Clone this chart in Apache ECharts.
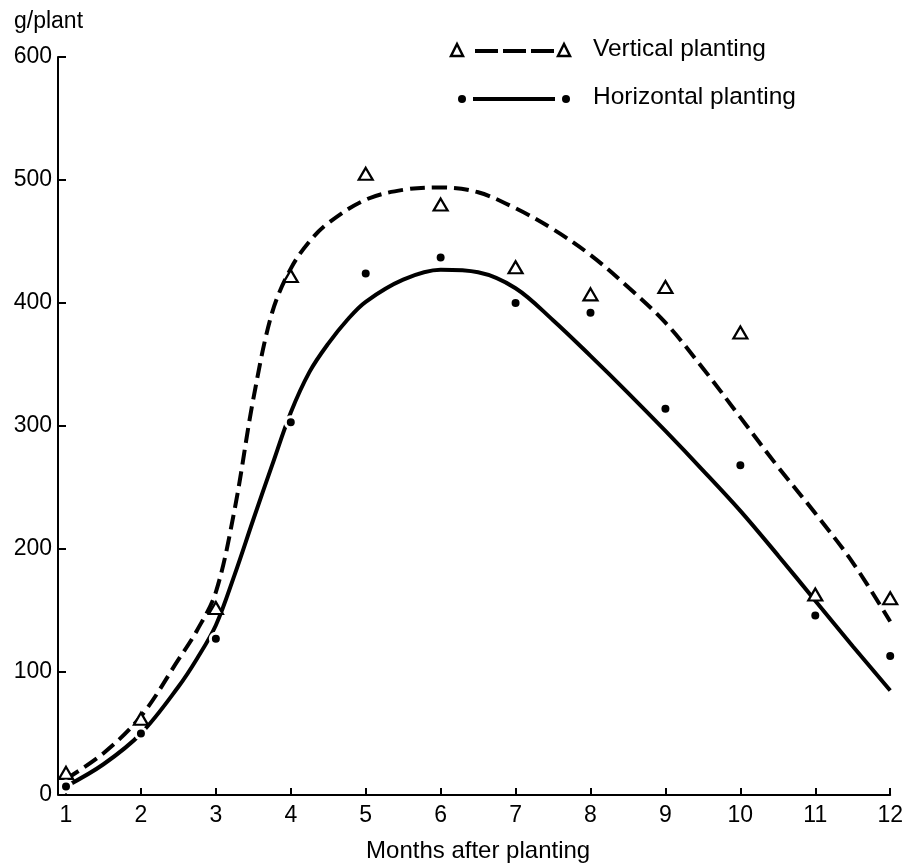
<!DOCTYPE html>
<html>
<head>
<meta charset="utf-8">
<script src="https://cdn.jsdelivr.net/npm/echarts@6/dist/echarts.min.js"></script>
<style>
  html, body { margin: 0; padding: 0; background: #fff; }
  #chart { width: 906px; height: 868px; }
</style>
</head>
<body>
<div id="chart"></div>
<script>
// months on the x axis
var months = [1, 2, 3, 4, 5, 6, 7, 8, 9, 10, 11, 12]
var yTicks = [0, 100, 200, 300, 400, 500, 600]

// measured points (g/plant)
var verticalPts = [18, 62, 152, 422, 505, 480, 429, 407, 413, 376, 163, 160]
var horizontalPts = [7, 50, 127, 303, 424, 437, 400, 392, 314, 268, 146, 113]

// fitted curves: [month, g/plant]
var verticalCurve = [
  [1, 13], [1.5, 34], [2, 64], [2.5, 110], [2.75, 134], [3, 165], [3.25, 232],
  [3.5, 322], [3.75, 392], [4, 428], [4.25, 450], [4.5, 465], [5, 484],
  [5.5, 492], [6, 494], [6.5, 490], [7, 477], [7.5, 460], [8, 439], [8.5, 413],
  [9, 384], [9.5, 347], [10, 307], [10.5, 267], [11, 229], [11.5, 189], [12, 141]
]
var horizontalCurve = [
  [1, 7], [1.5, 25], [2, 50], [2.5, 88], [2.75, 111], [3, 138], [3.25, 179],
  [3.5, 224], [3.75, 268], [4, 311], [4.25, 344], [4.5, 367], [4.75, 386],
  [5, 401], [5.5, 419], [6, 427], [6.5, 425], [7, 412], [7.5, 386], [8, 357],
  [8.5, 327], [9, 296], [9.5, 264], [10, 231], [10.5, 195], [11, 158],
  [11.5, 121], [12, 85]
]

var FONT = 'Liberation Sans, Arial, sans-serif'

var myChart = echarts.init(document.getElementById('chart'), null, {renderer: 'canvas'})

var option = {
  animation: false,
  backgroundColor: '#fff',
  title: {
    text: 'g/plant',
    left: 9,
    top: 5,
    textStyle: {fontFamily: FONT, fontSize: 23, fontWeight: 'normal', color: '#000'}
  },
  grid: {left: 66, right: 14, top: 57, bottom: 73},
  xAxis: {
    type: 'value',
    min: 1,
    max: 12,
    interval: 1,
    name: 'Months after planting',
    nameLocation: 'middle',
    nameGap: 44,
    nameTextStyle: {fontFamily: FONT, fontSize: 24, color: '#000'},
    axisLine: {lineStyle: {color: '#000', width: 2}},
    axisTick: {inside: true, length: 7, lineStyle: {color: '#000', width: 2}},
    axisLabel: {
      fontFamily: FONT, fontSize: 23, color: '#000', margin: 9,
      formatter: function (v) { return months.indexOf(v) >= 0 ? String(v) : '' }
    },
    splitLine: {show: false}
  },
  yAxis: {
    type: 'value',
    min: yTicks[0],
    max: yTicks[yTicks.length - 1],
    interval: 100,
    offset: 8,
    axisLine: {show: true, lineStyle: {color: '#000', width: 2}},
    axisTick: {show: true, inside: true, length: 8, lineStyle: {color: '#000', width: 2}},
    axisLabel: {fontFamily: FONT, fontSize: 23, color: '#000', margin: 6},
    splitLine: {show: false}
  },
  series: [
    {
      name: 'Vertical planting',
      type: 'line',
      data: verticalCurve,
      smooth: 0.35,
      showSymbol: false,
      lineStyle: {color: '#000', width: 4, type: [15, 7]},
      z: 2
    },
    {
      name: 'Horizontal planting',
      type: 'line',
      data: horizontalCurve,
      smooth: 0.35,
      showSymbol: false,
      lineStyle: {color: '#000', width: 4},
      z: 2
    },
    {
      name: 'Vertical points',
      type: 'scatter',
      data: months.map(function (m, i) { return [m, verticalPts[i]] }),
      symbol: 'triangle',
      symbolSize: [14, 12],
      itemStyle: {color: '#fff', borderColor: '#000', borderWidth: 2.2, opacity: 1},
      z: 3
    },
    {
      name: 'Horizontal points',
      type: 'scatter',
      data: months.map(function (m, i) { return [m, horizontalPts[i]] }),
      symbol: 'circle',
      symbolSize: 11,
      itemStyle: {color: '#000', borderColor: '#fff', borderWidth: 3, opacity: 1},
      z: 3
    }
  ],
  // legend drawn by hand: marker, line, marker, text
  graphic: [
    {type: 'polygon', shape: {points: [[457, 44], [451, 56], [463, 56]]},
      style: {fill: '#fff', stroke: '#000', lineWidth: 2.5}},
    {type: 'line', shape: {x1: 475, y1: 51, x2: 554, y2: 51},
      style: {stroke: '#000', lineWidth: 4, lineDash: [23, 5]}},
    {type: 'polygon', shape: {points: [[564, 44], [558, 56], [570, 56]]},
      style: {fill: '#fff', stroke: '#000', lineWidth: 2.5}},
    {type: 'text', left: 593, top: 37,
      style: {text: 'Vertical planting', fontFamily: FONT, fontSize: 24.5, fill: '#000'}},
    {type: 'circle', shape: {cx: 462, cy: 99, r: 4}, style: {fill: '#000'}},
    {type: 'line', shape: {x1: 473, y1: 99, x2: 555, y2: 99},
      style: {stroke: '#000', lineWidth: 4}},
    {type: 'circle', shape: {cx: 566, cy: 99, r: 4}, style: {fill: '#000'}},
    {type: 'text', left: 593, top: 85,
      style: {text: 'Horizontal planting', fontFamily: FONT, fontSize: 24.5, fill: '#000'}}
  ]
}

myChart.setOption(option)
window.addEventListener('resize', function () {
  myChart.resize()
})
</script>
</body>
</html>
